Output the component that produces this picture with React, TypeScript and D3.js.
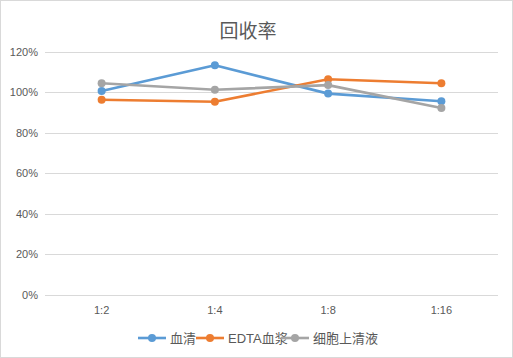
import React, { useEffect, useRef } from 'react';
import * as d3 from 'd3';

const categories = ['1:2', '1:4', '1:8', '1:16'];
const seriesNames = ['血清', 'EDTA血浆', '细胞上清液'];
const serum = [100.5, 113.2, 99.2, 95.4];
const edta = [96.2, 95.2, 106.3, 104.3];
const supernatant = [104.3, 101.1, 103.4, 92.1];
const yTicks = [0, 20, 40, 60, 80, 100, 120];
const colors = ['#5B9BD5', '#ED7D31', '#A5A5A5'];

const W = 513;
const H = 358;
const FONT = '"Liberation Sans", "Noto Sans CJK SC", sans-serif';

const App: React.FC = () => {
    const ref = useRef<SVGSVGElement | null>(null);

    useEffect(() => {
        if (!ref.current) return;
        const svg = d3.select(ref.current);
        svg.selectAll('*').remove();

        svg.append('rect')
            .attr('x', 0.5).attr('y', 0.5)
            .attr('width', W - 1).attr('height', H - 1)
            .attr('fill', '#fff')
            .attr('stroke', '#d9d9d9');

        const left = 45, right = 498, top = 51.5, bottom = 294.5;

        const x = d3.scaleBand<string>().domain(categories).range([left, right]);
        const y = d3.scaleLinear().domain([0, 120]).range([bottom, top]);

        // title
        svg.append('text')
            .attr('x', 248).attr('y', 38)
            .attr('text-anchor', 'middle')
            .style('font-family', FONT)
            .style('font-size', '19px')
            .style('fill', '#595959')
            .text('回收率');

        // grid
        svg.append('g').selectAll('line')
            .data(yTicks).enter().append('line')
            .attr('x1', left).attr('x2', right)
            .attr('y1', d => Math.round(y(d)) + 0.5)
            .attr('y2', d => Math.round(y(d)) + 0.5)
            .attr('stroke', '#d9d9d9');

        svg.append('g').selectAll('text')
            .data(yTicks).enter().append('text')
            .attr('x', 38).attr('y', d => y(d) + 4)
            .attr('text-anchor', 'end')
            .style('font-family', FONT)
            .style('font-size', '11px')
            .style('fill', '#595959')
            .text(d => `${d}%`);

        svg.append('g').selectAll('text')
            .data(categories).enter().append('text')
            .attr('x', d => (x(d) ?? 0) + x.bandwidth() / 2)
            .attr('y', 314)
            .attr('text-anchor', 'middle')
            .style('font-family', FONT)
            .style('font-size', '11px')
            .style('fill', '#595959')
            .text(d => d);

        const all = [serum, edta, supernatant];
        const line = d3.line<number>()
            .x((_d, i) => (x(categories[i]) ?? 0) + x.bandwidth() / 2)
            .y(d => y(d));

        all.forEach((vals, s) => {
            const g = svg.append('g');
            g.append('path')
                .attr('d', line(vals) ?? '')
                .attr('fill', 'none')
                .attr('stroke', colors[s])
                .attr('stroke-width', 2.6)
                .attr('stroke-linejoin', 'round');
            g.selectAll('circle')
                .data(vals).enter().append('circle')
                .attr('cx', (_d, i) => (x(categories[i]) ?? 0) + x.bandwidth() / 2)
                .attr('cy', d => y(d))
                .attr('r', 4)
                .attr('fill', colors[s]);
        });

        // legend
        const legendX = [138, 196, 281];
        seriesNames.forEach((name, s) => {
            const g = svg.append('g').attr('transform', `translate(${legendX[s]},338)`);
            g.append('line')
                .attr('x1', 0).attr('x2', 28)
                .attr('stroke', colors[s])
                .attr('stroke-width', 2.6);
            g.append('circle').attr('cx', 14).attr('r', 4).attr('fill', colors[s]);
            g.append('text')
                .attr('x', 32).attr('y', 5)
                .style('font-family', FONT)
                .style('font-size', '13px')
                .style('fill', '#595959')
                .text(name);
        });
    }, []);

    return (
        <div style={{ position: 'fixed', left: 0, top: 0 }}>
            <svg ref={ref} width={W} height={H} style={{ display: 'block' }}></svg>
        </div>
    );
};

export default App;
